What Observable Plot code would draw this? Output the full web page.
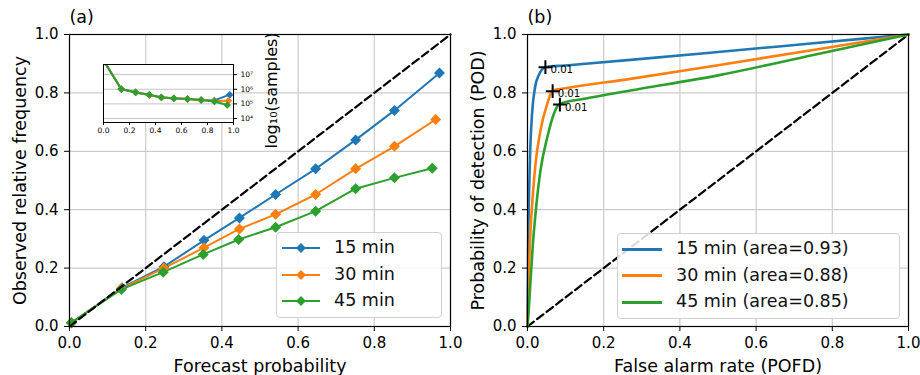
<!DOCTYPE html>
<html>
<head>
<meta charset="utf-8">
<script src="https://cdn.jsdelivr.net/npm/d3@7"></script>
<script src="https://cdn.jsdelivr.net/npm/@observablehq/plot@0.6"></script>
<style>
  html, body { margin: 0; padding: 0; background: white; }
  #wrap { position: relative; width: 920px; height: 375px; font-family: "DejaVu Sans", sans-serif; overflow: hidden; }
  #wrap svg { position: absolute; }
  .legend { position: absolute; border: 1px solid #d0d0d0; border-radius: 4px; background: rgba(255,255,255,0.85); box-sizing: border-box; }
  .sw { position: absolute; height: 0; }
  .mk { position: absolute; width: 7px; height: 7px; transform: translate(-50%,-50%) rotate(45deg); }
  .lt { position: absolute; font-size: 17.5px; line-height: 1; transform: translateY(-52%); white-space: nowrap; color: #111; }
</style>
</head>
<body>
<div id="wrap"></div>
<script>
// ---------- data ----------
const series = ["15 min", "30 min", "45 min"];
const colors = ["#1f77b4", "#ff7f0e", "#2ca02c"];
const axisTicks = [0, 0.2, 0.4, 0.6, 0.8, 1.0];
const insetTicksY = [4, 5, 6, 7];
const refLine = [0, 1];

// (a) reliability diagram
const fcst15 = [0.005, 0.138, 0.248, 0.353, 0.446, 0.541, 0.646, 0.751, 0.853, 0.971];
const fcst30 = [0.005, 0.136, 0.248, 0.353, 0.446, 0.541, 0.646, 0.751, 0.853, 0.961];
const fcst45 = [0.005, 0.136, 0.246, 0.351, 0.444, 0.541, 0.646, 0.751, 0.853, 0.952];
const obs15 = [0.013, 0.133, 0.205, 0.295, 0.372, 0.452, 0.540, 0.639, 0.740, 0.868];
const obs30 = [0.013, 0.130, 0.200, 0.270, 0.334, 0.384, 0.452, 0.540, 0.617, 0.709];
const obs45 = [0.013, 0.127, 0.186, 0.247, 0.298, 0.340, 0.395, 0.472, 0.509, 0.542];
// inset: log10(samples)
const logN15 = [7.9, 6.00, 5.78, 5.60, 5.43, 5.37, 5.33, 5.27, 5.24, 5.63];
const logN30 = [7.9, 6.01, 5.79, 5.61, 5.44, 5.38, 5.33, 5.27, 5.20, 5.22];
const logN45 = [7.9, 6.02, 5.80, 5.62, 5.45, 5.39, 5.34, 5.26, 5.16, 4.93];

// (b) ROC curves
const pofd15 = [0, 0.001, 0.002, 0.004, 0.007, 0.012, 0.020, 0.030, 0.047, 0.10, 0.27, 0.50, 0.75, 1.0];
const pod15  = [0, 0.15, 0.30, 0.45, 0.60, 0.73, 0.82, 0.862, 0.888, 0.894, 0.913, 0.940, 0.970, 1.0];
const pofd30 = [0, 0.002, 0.004, 0.008, 0.014, 0.021, 0.034, 0.052, 0.066, 0.10, 0.27, 0.50, 0.75, 1.0];
const pod30  = [0, 0.10, 0.20, 0.33, 0.45, 0.557, 0.671, 0.763, 0.808, 0.816, 0.848, 0.895, 0.947, 1.0];
const pofd45 = [0, 0.003, 0.008, 0.014, 0.021, 0.034, 0.052, 0.069, 0.085, 0.15, 0.27, 0.50, 0.75, 1.0];
const pod45  = [0, 0.05, 0.158, 0.28, 0.386, 0.534, 0.648, 0.728, 0.763, 0.780, 0.808, 0.860, 0.930, 1.0];
const thrPofd = [0.047, 0.066, 0.085];
const thrPod = [0.888, 0.806, 0.760];
const thrLabel = ["0.01", "0.01", "0.01"];
const areas = [0.93, 0.88, 0.85];

// ---------- tables ----------
const fcst = [fcst15, fcst30, fcst45], obs = [obs15, obs30, obs45], logN = [logN15, logN30, logN45];
const pofd = [pofd15, pofd30, pofd45], pod = [pod15, pod30, pod45];
const rel = [], ins = [], roc = [];
series.forEach((s, i) => {
  fcst[i].forEach((x, j) => { rel.push({s, x, y: obs[i][j]}); ins.push({s, x, y: logN[i][j]}); });
  pofd[i].forEach((x, j) => roc.push({s, x, y: pod[i][j]}));
});
const thr = series.map((s, i) => ({s, x: thrPofd[i], y: thrPod[i], t: thrLabel[i]}));

const font = "DejaVu Sans";
const baseStyle = {fontFamily: font, fontSize: "15px", color: "black", background: "transparent", overflow: "visible"};
const gridOpt = {stroke: "#cccccc", strokeOpacity: 1, strokeWidth: 1.2};
const fmt1 = d => d.toFixed(1);

function panelMarks(xlabel, ylabel, tag) {
  return {
    pre: [Plot.gridX(axisTicks, gridOpt), Plot.gridY(axisTicks, gridOpt)],
    post: [
      Plot.frame({stroke: "black", strokeWidth: 1.2}),
      Plot.axisX({ticks: axisTicks, tickFormat: fmt1, tickSize: 5, tickPadding: 6, fontSize: 15, label: null}),
      Plot.axisY({ticks: axisTicks, tickFormat: fmt1, tickSize: 5, tickPadding: 6, fontSize: 15, label: null}),
      Plot.text([xlabel], {text: d => d, frameAnchor: "bottom", textAnchor: "middle", lineAnchor: "middle", dy: 40, fontSize: 17.5}),
      Plot.text([ylabel], {text: d => d, frameAnchor: "left", textAnchor: "middle", lineAnchor: "middle", rotate: -90, dx: -49, fontSize: 17.5}),
      Plot.text([tag], {text: d => d, frameAnchor: "top-left", textAnchor: "start", lineAnchor: "middle", dy: -17, fontSize: 17.5})
    ]
  };
}

const wrap = document.getElementById("wrap");

// ---------- panel (a) ----------
const pa = panelMarks("Forecast probability", "Observed relative frequency", "(a)");
const left = Plot.plot({
  width: 460, height: 375, marginLeft: 69, marginRight: 10, marginTop: 34, marginBottom: 49,
  x: {domain: [0, 1]}, y: {domain: [0, 1]},
  color: {domain: series, range: colors},
  style: baseStyle,
  marks: [
    ...pa.pre,
    Plot.line(rel, {x: "x", y: "y", z: "s", stroke: "s", strokeWidth: 2}),
    Plot.dot(rel, {x: "x", y: "y", fill: "s", stroke: "s", symbol: "diamond2", r: 4}),
    Plot.line(refLine, {x: d => d, y: d => d, stroke: "black", strokeWidth: 2.2, strokeDasharray: "8,4"}),
    ...pa.post
  ]
});
left.style.left = "0px"; left.style.top = "0px";
wrap.appendChild(left);

// ---------- panel (b) ----------
const pb = panelMarks("False alarm rate (POFD)", "Probability of detection (POD)", "(b)");
const right = Plot.plot({
  width: 460, height: 375, marginLeft: 67, marginRight: 12, marginTop: 34, marginBottom: 49,
  x: {domain: [0, 1]}, y: {domain: [0, 1]},
  color: {domain: series, range: colors},
  style: baseStyle,
  marks: [
    ...pb.pre,
    Plot.line(refLine, {x: d => d, y: d => d, stroke: "black", strokeWidth: 2.2, strokeDasharray: "8,4"}),
    Plot.line(roc, {x: "x", y: "y", z: "s", stroke: "s", strokeWidth: 2.6, curve: "monotone-x"}),
    Plot.dot(thr, {x: "x", y: "y", symbol: "plus", stroke: "black", strokeWidth: 2, r: 4.5}),
    Plot.text(thr, {x: "x", y: "y", text: "t", textAnchor: "start", dx: 5, dy: 3, fontSize: 10.2, fill: "black"}),
    ...pb.post
  ]
});
right.style.left = "460px"; right.style.top = "0px";
wrap.appendChild(right);

// ---------- inset ----------
const sup = {4: "⁴", 5: "⁵", 6: "⁶", 7: "⁷"};
const inset = Plot.plot({
  width: 178, height: 87, marginLeft: 8, marginRight: 40, marginTop: 9, marginBottom: 20,
  x: {domain: [0, 1]}, y: {domain: [3.73, 7.69]},
  color: {domain: series, range: colors},
  style: baseStyle,
  marks: [
    Plot.frame({fill: "white"}),
    Plot.gridY(insetTicksY, {stroke: "#c4c4c4", strokeOpacity: 1, strokeWidth: 1}),
    Plot.line(ins, {x: "x", y: "y", z: "s", stroke: "s", strokeWidth: 2, clip: true}),
    Plot.dot(ins, {x: "x", y: "y", fill: "s", stroke: "s", symbol: "diamond2", r: 2.4, clip: true}),
    Plot.frame({stroke: "black", strokeWidth: 1}),
    Plot.axisX({ticks: axisTicks, tickFormat: fmt1, tickSize: 3, tickPadding: 2, fontSize: 7.5, label: null}),
    Plot.axisY({anchor: "right", ticks: insetTicksY, tickFormat: d => "10" + sup[d], tickSize: 3, tickPadding: 4, fontSize: 7.5, label: null}),
    Plot.text(["log₁₀(samples)"], {text: d => d, frameAnchor: "right", textAnchor: "middle", lineAnchor: "middle", rotate: -90, dx: 38, dy: -3, fontSize: 16})
  ]
});
inset.style.left = "95px"; inset.style.top = "55px";
wrap.appendChild(inset);

// ---------- legends ----------
function legend(x, y, w, h, labels, swL, swR, textX, lw, marker) {
  const box = document.createElement("div");
  box.className = "legend";
  Object.assign(box.style, {left: x + "px", top: y + "px", width: w + "px", height: h + "px"});
  const rowsY = [15, 41.5, 68];
  labels.forEach((lab, i) => {
    const sw = document.createElement("div");
    sw.className = "sw";
    Object.assign(sw.style, {left: swL + "px", width: (swR - swL) + "px", top: (rowsY[i] - lw / 2) + "px", borderTop: lw + "px solid " + colors[i]});
    box.appendChild(sw);
    if (marker) {
      const mk = document.createElement("div");
      mk.className = "mk";
      Object.assign(mk.style, {left: ((swL + swR) / 2) + "px", top: rowsY[i] + "px", background: colors[i]});
      box.appendChild(mk);
    }
    const t = document.createElement("div");
    t.className = "lt";
    t.textContent = lab;
    Object.assign(t.style, {left: textX + "px", top: rowsY[i] + "px"});
    box.appendChild(t);
  });
  wrap.appendChild(box);
}
legend(276, 232, 166, 86, series, 5, 43, 57, 2, true);
legend(617, 233, 283, 86, series.map((s, i) => `${s} (area=${areas[i].toFixed(2)})`), 4, 44, 58, 3, false);
</script>
</body>
</html>
